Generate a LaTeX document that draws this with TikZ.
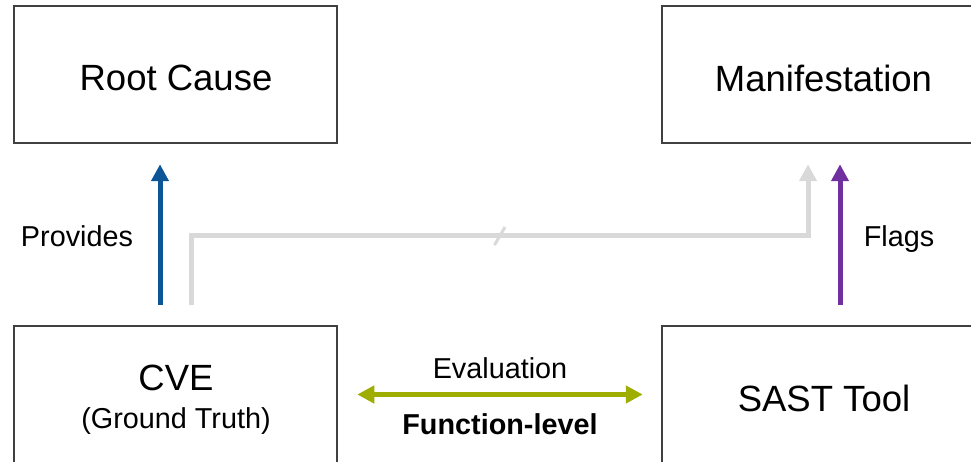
\documentclass[tikz,border=0pt]{standalone}
\usepackage{fontspec}
\setmainfont{Liberation Sans}
\usetikzlibrary{arrows.meta,calc}
\definecolor{boxline}{HTML}{404040}
\definecolor{provblue}{HTML}{0C5597}
\definecolor{flagpurple}{HTML}{7030A0}
\definecolor{evalgreen}{HTML}{9EAD00}
\definecolor{linkgray}{HTML}{D9D9D9}
\tikzset{
  box/.style={draw=boxline, line width=2.5pt, minimum width=323pt, minimum height=137pt, inner sep=0pt},
  bigtext/.style={font=\fontsize{36.5}{42}\selectfont},
  smalltext/.style={font=\fontsize{28.8}{34}\selectfont},
  uparrow/.style={line width=5pt, -{Triangle[length=17pt,width=17pt]}, shorten <=20pt, shorten >=20pt},
  evalarrow/.style={draw=evalgreen, line width=5pt, {Triangle[length=17pt,width=17pt]}-{Triangle[length=17pt,width=17pt]}, shorten <=19pt, shorten >=18pt},
}
\begin{document}
\begin{tikzpicture}[x=1pt,y=-1pt]
  \useasboundingbox (0,0) rectangle (971,462);
  % the four boxes
  \node[box] (root) at (175.5,74.5) {};
  \node[box] (manif) at (823.5,74.5) {};
  \node[box] (cve) at (175.5,394.5) {};
  \node[box] (sast) at (823.5,394.5) {};
  % box texts
  \node[bigtext] (roottxt) at (176,78) {Root Cause};
  \node[bigtext] (maniftxt) at (823.5,78) {Manifestation};
  \node[bigtext] (cvetxt) at (176,378) {CVE};
  \node[smalltext] (cvenote) at (176,421) {(Ground Truth)};
  \node[bigtext] (sasttxt) at (824,398) {SAST Tool};
  % CVE provides the root cause
  \draw[uparrow, draw=provblue, fill=provblue] (cve.north -| 160,0) -- (root.south -| 160,0);
  \node[smalltext] (provides) at (77,236) {Provides};
  % indirect link from CVE to manifestation, with a break mark
  \coordinate (gstart) at ($(cve.north -| 191,0)+(0,-20)$);
  \coordinate (gend) at ($(manif.south -| 808,0)+(0,20)$);
  \coordinate (gmid) at (500,236);
  \draw[draw=linkgray, line width=5pt, -{Triangle[length=17pt,width=17pt,fill=linkgray]}] (gstart) |- (gmid) -| (gend);
  \coordinate (slashlo) at (494.5,245);
  \coordinate (slashhi) at (505,227);
  \draw[draw=linkgray, line width=3pt] (slashlo) -- (slashhi);
  % SAST tool flags the manifestation
  \draw[uparrow, draw=flagpurple, fill=flagpurple] (sast.north -| 840,0) -- (manif.south -| 840,0);
  \node[smalltext] (flags) at (899,239) {Flags};
  % evaluation between CVE and SAST tool
  \draw[evalarrow] (cve.east) -- (sast.west);
  \node[smalltext] (evaltxt) at (500,368) {Evaluation};
  \node[smalltext, font=\fontsize{28.8}{34}\selectfont\bfseries] (granularity) at (500,424) {Function-level};
\end{tikzpicture}
\end{document}
